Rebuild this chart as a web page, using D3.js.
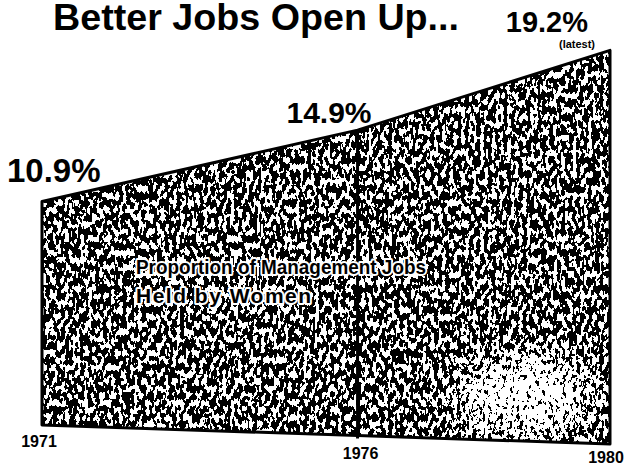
<!DOCTYPE html>
<html>
<head>
<meta charset="utf-8">
<script src="https://cdn.jsdelivr.net/npm/d3@7"></script>
<style>
  body { margin: 0; background: #fff; }
  svg { display: block; }
  text { font-family: "Liberation Sans", Arial, sans-serif; font-weight: bold; fill: #000; }
</style>
</head>
<body>
<div id="chart"></div>
<script>
// data
var years = [1971, 1976, 1980];
var shares = [10.9, 14.9, 19.2];
var valueLabels = ["10.9%", "14.9%", "19.2%"];
var yearLabels = ["1971", "1976", "1980"];
var title = "Better Jobs Open Up...";
var note = "(latest)";
var caption = ["Proportion of Management Jobs", "Held by Women"];

function init() {
    var w = 642;
    var h = 468;

    // x by year, the floor of the block slopes down a little, height by share
    var xScale = d3.scaleLinear().domain([1971, 1980]).range([42, 610]);
    var baseScale = d3.scaleLinear().domain([1971, 1980]).range([425, 444]);
    var hScale = d3.scaleLinear().domain([0, 20]).range([0, 410]);

    var data = years.map(function(y, i) { return { year: y, value: shares[i] }; });
    var top = function(d) { return baseScale(d.year) - hScale(d.value); };

    var area = d3.area()
        .x(d => xScale(d.year))
        .y0(d => baseScale(d.year))
        .y1(top);

    var svg = d3.select("#chart")
        .append("svg")
        .attr("width", w)
        .attr("height", h);

    var defs = svg.append("defs");

    // speckled scan-like texture
    var f = defs.append("filter").attr("id", "grain")
        .attr("x", 0).attr("y", 0).attr("width", 1).attr("height", 1);
    f.append("feTurbulence")
        .attr("type", "fractalNoise")
        .attr("baseFrequency", "0.26 0.14")
        .attr("numOctaves", 2)
        .attr("seed", 11)
        .attr("result", "noise");
    f.append("feColorMatrix")
        .attr("type", "matrix")
        .attr("values", "0 0 0 0 0  0 0 0 0 0  0 0 0 0 0  1.6 0 0 0 -0.26");
    f.append("feComponentTransfer")
        .append("feFuncA").attr("type", "discrete").attr("tableValues", "0 1");
    f.append("feComposite").attr("in2", "SourceGraphic").attr("operator", "in");

    // washed-out patch, bottom right
    var g2 = defs.append("filter").attr("id", "fade")
        .attr("filterUnits", "userSpaceOnUse")
        .attr("x", 250).attr("y", 150).attr("width", 392).attr("height", 318);
    g2.append("feGaussianBlur").attr("in", "SourceAlpha").attr("stdDeviation", 38).attr("result", "soft");
    g2.append("feTurbulence")
        .attr("type", "fractalNoise")
        .attr("baseFrequency", "0.3 0.2")
        .attr("numOctaves", 2)
        .attr("seed", 4)
        .attr("result", "n2");
    g2.append("feColorMatrix").attr("in", "n2")
        .attr("type", "matrix")
        .attr("values", "0 0 0 0 0  0 0 0 0 0  0 0 0 0 0  1 0 0 0 0")
        .attr("result", "na");
    g2.append("feComposite").attr("in", "na").attr("in2", "soft")
        .attr("operator", "arithmetic").attr("k1", 1.35).attr("k2", 0).attr("k3", 0).attr("k4", 0);
    g2.append("feComponentTransfer").attr("result", "mask")
        .append("feFuncA").attr("type", "discrete").attr("tableValues", "0 1");
    g2.append("feFlood").attr("flood-color", "#fff").attr("result", "white");
    g2.append("feComposite").attr("in", "white").attr("in2", "mask").attr("operator", "in");

    defs.append("clipPath").attr("id", "blockClip")
        .append("path").datum(data).attr("d", area);

    svg.append("path")
        .datum(data)
        .attr("fill", "#fff")
        .attr("d", area);

    svg.append("path")
        .datum(data)
        .attr("fill", "#000")
        .attr("filter", "url(#grain)")
        .attr("d", area);

    svg.append("g")
        .attr("clip-path", "url(#blockClip)")
        .append("ellipse")
        .attr("cx", 525).attr("cy", 395)
        .attr("rx", 105).attr("ry", 65)
        .attr("fill", "#fff")
        .attr("filter", "url(#fade)");

    // outline
    svg.append("path")
        .datum(data)
        .attr("fill", "none")
        .attr("stroke", "#000")
        .attr("stroke-width", 3)
        .attr("stroke-linejoin", "round")
        .attr("d", area);

    // divider at the middle year
    var mid = data[1];
    svg.append("line")
        .attr("x1", xScale(mid.year)).attr("x2", xScale(mid.year))
        .attr("y1", top(mid)).attr("y2", baseScale(mid.year) + 3)
        .attr("stroke", "#000")
        .attr("stroke-width", 3);

    // caption inside the block
    svg.append("g").selectAll("text")
        .data(caption)
        .join("text")
        .attr("x", 136)
        .attr("y", (d, i) => 274 + i * 29)
        .attr("font-size", 21)
        .attr("textLength", (d, i) => i === 0 ? 290 : null)
        .attr("lengthAdjust", "spacingAndGlyphs")
        .attr("letter-spacing", (d, i) => i === 1 ? 1.5 : 0)
        .attr("stroke", "#fff")
        .attr("stroke-width", 4)
        .attr("paint-order", "stroke")
        .attr("stroke-linejoin", "round")
        .text(d => d);

    // value labels
    var labelPos = [
        { dx: -35, dy: -20, size: 33, anchor: "start" },
        { dx: 14, dy: -7, size: 30, anchor: "end" },
        { dx: -22, dy: -18, size: 29, anchor: "end" }
    ];
    svg.append("g").selectAll("text")
        .data(data)
        .join("text")
        .attr("x", (d, i) => xScale(d.year) + labelPos[i].dx)
        .attr("y", (d, i) => top(d) + labelPos[i].dy)
        .attr("text-anchor", (d, i) => labelPos[i].anchor)
        .attr("font-size", (d, i) => labelPos[i].size)
        .text((d, i) => valueLabels[i]);

    svg.append("text")
        .attr("x", 577)
        .attr("y", top(data[2]) - 2)
        .attr("text-anchor", "middle")
        .attr("font-size", 11)
        .text(note);

    // year labels under the sloped floor
    svg.append("g").selectAll("text")
        .data(data)
        .join("text")
        .attr("x", (d, i) => xScale(d.year) + [-3, 3, -4][i])
        .attr("y", (d, i) => baseScale(d.year) + [22, 23, 19][i])
        .attr("text-anchor", "middle")
        .attr("font-size", 16)
        .text((d, i) => yearLabels[i]);

    // title
    svg.append("text")
        .attr("x", 53)
        .attr("y", 30)
        .attr("font-size", 37)
        .attr("textLength", 406)
        .attr("lengthAdjust", "spacingAndGlyphs")
        .text(title);
}

window.onload = init;
</script>
</body>
</html>
